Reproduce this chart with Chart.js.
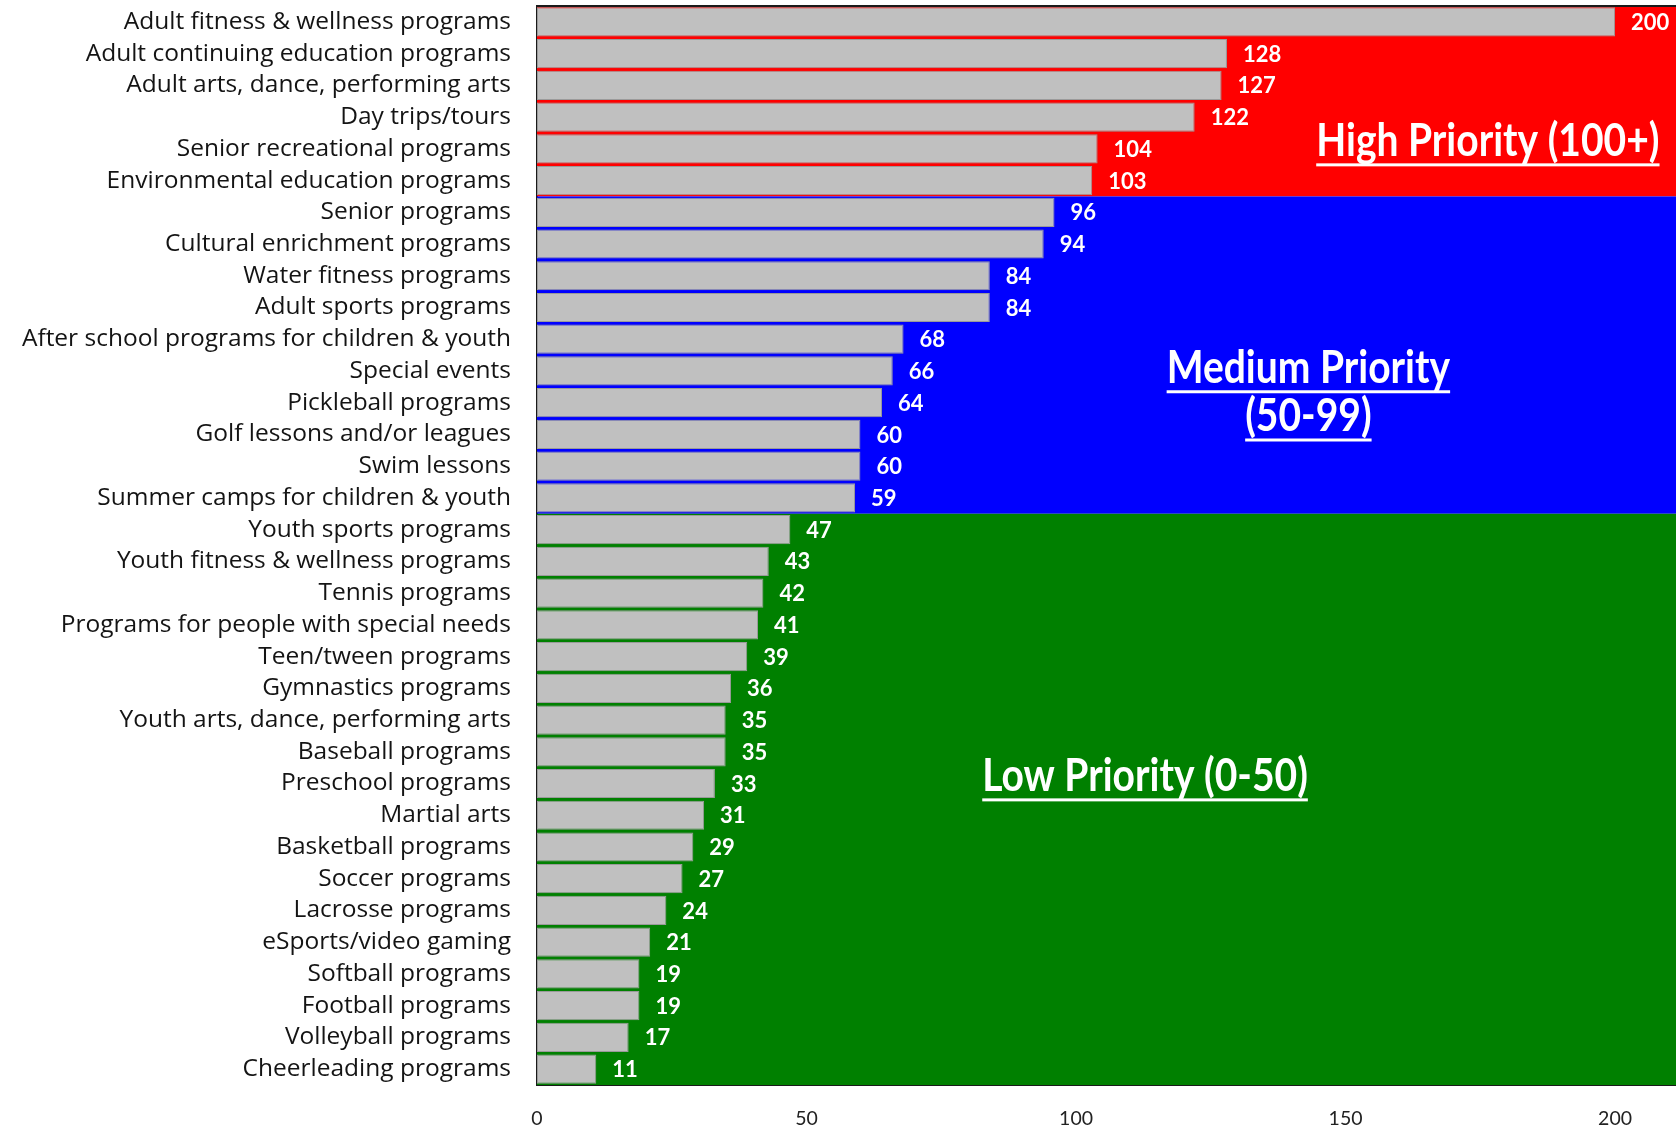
<!DOCTYPE html>
<html>
<head>
<meta charset="utf-8">
<title>Program priorities</title>
<script src="https://cdn.jsdelivr.net/npm/chart.js@4.4.1/dist/chart.umd.min.js"></script>
<style>
  html, body { margin: 0; padding: 0; background: #ffffff; }
  #wrap { width: 1676px; height: 1128px; position: relative; }
</style>
</head>
<body>
<div id="wrap"><canvas id="chart" width="1676" height="1128"></canvas></div>
<script>
// Programs, ordered from highest to lowest score
const categories = [
  'Adult fitness & wellness programs',
  'Adult continuing education programs',
  'Adult arts, dance, performing arts',
  'Day trips/tours',
  'Senior recreational programs',
  'Environmental education programs',
  'Senior programs',
  'Cultural enrichment programs',
  'Water fitness programs',
  'Adult sports programs',
  'After school programs for children & youth',
  'Special events',
  'Pickleball programs',
  'Golf lessons and/or leagues',
  'Swim lessons',
  'Summer camps for children & youth',
  'Youth sports programs',
  'Youth fitness & wellness programs',
  'Tennis programs',
  'Programs for people with special needs',
  'Teen/tween programs',
  'Gymnastics programs',
  'Youth arts, dance, performing arts',
  'Baseball programs',
  'Preschool programs',
  'Martial arts',
  'Basketball programs',
  'Soccer programs',
  'Lacrosse programs',
  'eSports/video gaming',
  'Softball programs',
  'Football programs',
  'Volleyball programs',
  'Cheerleading programs'
];

const scores = [
  200, 128, 127, 122, 104, 103,
  96, 94, 84, 84, 68, 66, 64, 60, 60, 59,
  47, 43, 42, 41, 39, 36, 35, 35, 33, 31, 29, 27, 24, 21, 19, 19, 17, 11
];

const tickValues = [0, 50, 100, 150, 200];

// Priority tiers: first program index of each tier, colour and caption lines
const tierStart = [0, 6, 16];
const tierColors = ['#ff0000', '#0000ff', '#008000'];
const tierCaptions = [
  ['High Priority (100+)'],
  ['Medium Priority', '(50-99)'],
  ['Low Priority (0-50)']
];

// Caption anchors in chart units: score along x, program index along y
const captionAnchors = [
  { x: 176.4, y: [3.72] },
  { x: 143.1, y: [10.87, 12.39] },
  { x: 112.8, y: [23.73] }
];

const LABEL_FONT = 'Lato, "Open Sans", sans-serif';
const CATEGORY_FONT = '"Open Sans", Lato, sans-serif';

// Coloured tier bands behind the bars
const tierBands = {
  id: 'tierBands',
  beforeDatasetsDraw(chart) {
    const { ctx, chartArea: a, scales: { y } } = chart;
    const half = (y.getPixelForValue(1) - y.getPixelForValue(0)) / 2;
    ctx.save();
    tierStart.forEach((start, i) => {
      const end = (i + 1 < tierStart.length ? tierStart[i + 1] : categories.length) - 1;
      const top = i === 0 ? a.top : y.getPixelForValue(start) - half;
      const bottom = i === tierStart.length - 1 ? a.bottom : y.getPixelForValue(end) + half;
      ctx.fillStyle = tierColors[i];
      ctx.fillRect(a.left, top, a.right - a.left, bottom - top);
    });
    // top frame line
    ctx.strokeStyle = '#1a1a1a';
    ctx.lineWidth = 2;
    ctx.beginPath();
    ctx.moveTo(a.left, a.top);
    ctx.lineTo(a.right, a.top);
    ctx.stroke();
    ctx.restore();
  }
};

// Score labels after each bar, and the tier captions
const barLabels = {
  id: 'barLabels',
  afterDatasetsDraw(chart) {
    const { ctx, scales: { x, y } } = chart;
    const meta = chart.getDatasetMeta(0);
    ctx.save();
    ctx.fillStyle = '#ffffff';
    ctx.font = 'bold 22px ' + LABEL_FONT;
    ctx.textAlign = 'left';
    ctx.textBaseline = 'middle';
    meta.data.forEach((bar, i) => {
      ctx.fillText(String(scores[i]), bar.x + 16, bar.y + 1);
    });

    // captions, bold white and underlined
    const size = 39;
    const stretch = 1.17;
    ctx.font = 'bold ' + size + 'px ' + LABEL_FONT;
    ctx.textAlign = 'center';
    ctx.textBaseline = 'alphabetic';
    tierCaptions.forEach((lines, i) => {
      const cx = x.getPixelForValue(captionAnchors[i].x);
      lines.forEach((line, j) => {
        const cy = y.getPixelForValue(captionAnchors[i].y[j]);
        const w = ctx.measureText(line).width;
        ctx.save();
        ctx.translate(cx, cy);
        ctx.scale(1, stretch);
        ctx.fillText(line, 0, size * 0.36);
        ctx.restore();
        ctx.fillRect(cx - w / 2, cy + size * 0.36 * stretch + 7, w, 3);
      });
    });
    ctx.restore();
  }
};

new Chart(document.getElementById('chart'), {
  type: 'bar',
  data: {
    labels: categories,
    datasets: [{
      data: scores,
      backgroundColor: '#c0c0c0',
      borderColor: '#9a9a9a',
      borderWidth: 1,
      borderSkipped: false,
      categoryPercentage: 0.92,
      barPercentage: 1.0
    }]
  },
  options: {
    indexAxis: 'y',
    responsive: false,
    animation: false,
    devicePixelRatio: 1,
    layout: { padding: { top: 6, right: 0, bottom: 0, left: 0 } },
    plugins: {
      legend: { display: false },
      tooltip: { enabled: false },
      title: { display: false }
    },
    scales: {
      x: {
        min: 0,
        max: 211.3,
        afterBuildTicks(scale) {
          scale.ticks = tickValues.map(v => ({ value: v }));
        },
        afterFit(scale) {
          scale.height = 43;
          scale.paddingLeft = 0;
          scale.paddingRight = 0;
        },
        grid: { display: false, drawTicks: false },
        border: { display: true, color: '#1a1a1a', width: 2 },
        ticks: {
          padding: 22,
          color: '#222222',
          font: { family: LABEL_FONT, size: 19.5 },
          maxRotation: 0,
          autoSkip: false
        }
      },
      y: {
        afterFit(scale) {
          scale.width = 537;
          scale.paddingTop = 0;
          scale.paddingBottom = 0;
        },
        grid: { display: false, drawTicks: false },
        border: { display: true, color: '#1a1a1a', width: 2 },
        ticks: {
          padding: 26,
          color: '#141414',
          font: { family: CATEGORY_FONT, size: 24.5 },
          autoSkip: false
        }
      }
    }
  },
  plugins: [tierBands, barLabels]
});
</script>
</body>
</html>
